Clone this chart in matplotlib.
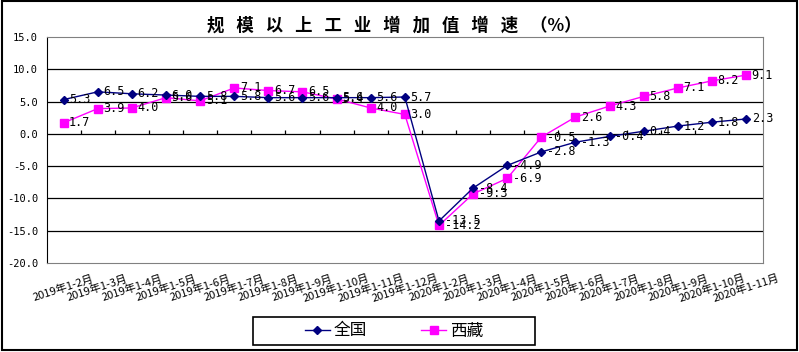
import numpy as np
import matplotlib
matplotlib.use("Agg")
import matplotlib.pyplot as plt
from matplotlib.patches import Rectangle

plt.rcParams['font.family'] = ['Noto Sans CJK SC', 'DejaVu Sans']

# data
months_2019 = ['1-2', '1-3', '1-4', '1-5', '1-6', '1-7', '1-8', '1-9', '1-10', '1-11', '1-12']
months_2020 = ['1-2', '1-3', '1-4', '1-5', '1-6', '1-7', '1-8', '1-9', '1-10', '1-11']
categories = ['2019年' + m + '月' for m in months_2019] + ['2020年' + m + '月' for m in months_2020]

national = [5.3, 6.5, 6.2, 6.0, 5.8, 5.8, 5.6, 5.6, 5.6, 5.6, 5.7,
            -13.5, -8.4, -4.9, -2.8, -1.3, -0.4, 0.4, 1.2, 1.8, 2.3]
tibet = [1.7, 3.9, 4.0, 5.6, 5.1, 7.1, 6.7, 6.5, 5.4, 4.0, 3.0,
         -14.2, -9.3, -6.9, -0.5, 2.6, 4.3, 5.8, 7.1, 8.2, 9.1]

title = '   '.join('规模以上工业增加值增速') + '   （%）'

fig = plt.figure(figsize=(7.99, 3.52), dpi=100)
ax = fig.add_axes([0.0582, 0.253, 0.897, 0.642])

x = np.arange(len(categories))
ax.plot(x, national, color='#000080', lw=1, marker='D', ms=4.5, mfc='#000080', mec='#000080', label='全国', zorder=4)
ax.plot(x, tibet, color='#FF00FF', lw=1, marker='s', ms=6, mfc='#FF00FF', mec='#FF00FF', label='西藏', zorder=3)

mono = 'DejaVu Sans Mono'
for xi, v in zip(x, national):
    ax.annotate('%.1f' % v, (xi, v), xytext=(4, 0), textcoords='offset points',
                va='center', ha='left', fontsize=8.5, family=mono, zorder=5)
for xi, v in zip(x, tibet):
    ax.annotate('%.1f' % v, (xi, v), xytext=(4, 0), textcoords='offset points',
                va='center', ha='left', fontsize=8.5, family=mono, zorder=5)

ax.set_xlim(-0.5, len(categories) - 0.5)
ax.set_ylim(-20, 15)
ax.set_yticks(np.arange(-20, 16, 5))
ax.set_yticklabels(['%.1f' % t for t in np.arange(-20, 16, 5)], family=mono, fontsize=7.5)
ax.tick_params(axis='y', length=0, pad=6)

for yv in [10, 5, 0, -5, -10, -15]:
    ax.axhline(yv, color='black', lw=0.9, zorder=1)
# category boundary ticks on the zero line
ax.vlines(np.arange(0.5, len(categories) - 0.5), 0, 0.6, color='black', lw=0.9, zorder=1)

ax.set_xticks(x)
ax.set_xticklabels(categories, rotation=18, ha='center', va='center',
                   rotation_mode='anchor', fontsize=8)
ax.tick_params(axis='x', length=0, pad=18)

for s in ['top', 'right', 'bottom']:
    ax.spines[s].set_color('#808080')
ax.spines['left'].set_color('black')

fig.text(0.494, 0.928, title, ha='center', va='center', fontsize=12.5, fontweight='bold')

# legend frame
fig.patches.append(Rectangle((253 / 799, 1 - 345 / 352), 282 / 799, 28 / 352,
                             transform=fig.transFigure, fill=False, ec='black', lw=1.2))
fig.legend(loc='center', bbox_to_anchor=(0.493, 0.0597), ncol=2, frameon=False,
           fontsize=12, handlelength=1.5, handletextpad=0.2, columnspacing=3.3)

# outer border
fig.patches.append(Rectangle((0.002, 0.006), 0.995, 0.99, transform=fig.transFigure,
                             fill=False, ec='black', lw=1.5))

fig.savefig('out.png', dpi=100)
